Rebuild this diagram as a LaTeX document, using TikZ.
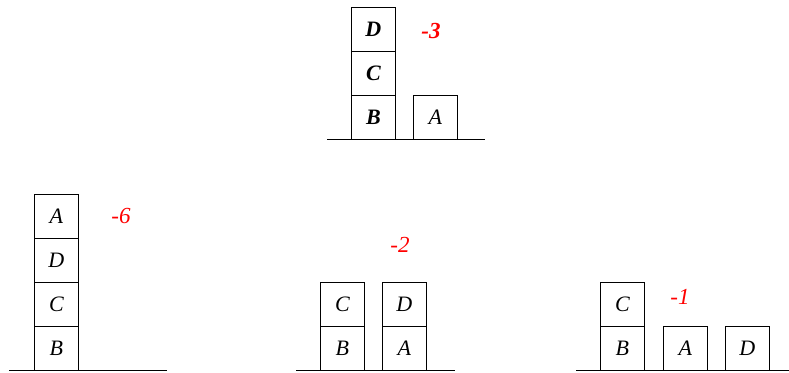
\documentclass[tikz,border=0pt]{standalone}
\usepackage{fontspec}
\setmainfont{Liberation Serif}
\begin{document}
\begin{tikzpicture}[x=1pt,y=-1pt,
  blk/.style={draw,line width=0.8pt,minimum width=44pt,minimum height=44pt,inner sep=0pt,anchor=north west,font=\fontsize{22}{22}\selectfont\itshape},
  bblk/.style={blk,font=\fontsize{22}{22}\selectfont\bfseries\itshape},
  gnd/.style={line width=1pt},
  score/.style={text=red,font=\fontsize{23}{23}\selectfont\itshape},
  bscore/.style={text=red,font=\fontsize{23}{23}\selectfont\bfseries\itshape}]
\useasboundingbox (0,0) rectangle (789,372);
% top
\node[bblk] (tD) at (351,7) {D};
\node[bblk] (tC) at (351,51) {C};
\node[bblk] (tB) at (351,95) {B};
\node[blk] (tA) at (413,95) {A};
\coordinate (tg1) at (327,139); \coordinate (tg2) at (485,139);
\draw[gnd] (tg1) -- (tg2);
\node[bscore] (ts) at (431,31) {-3};
% left
\node[blk] (lA) at (34,194) {A};
\node[blk] (lD) at (34,238) {D};
\node[blk] (lC) at (34,282) {C};
\node[blk] (lB) at (34,326) {B};
\coordinate (lg1) at (9,370); \coordinate (lg2) at (167,370);
\draw[gnd] (lg1) -- (lg2);
\node[score] (ls) at (121,216) {-6};
% middle
\node[blk] (mC) at (320,282) {C};
\node[blk] (mB) at (320,326) {B};
\node[blk] (mD) at (382,282) {D};
\node[blk] (mA) at (382,326) {A};
\coordinate (mg1) at (296,370); \coordinate (mg2) at (455,370);
\draw[gnd] (mg1) -- (mg2);
\node[score] (ms) at (400,245) {-2};
% right
\node[blk] (rC) at (600,282) {C};
\node[blk] (rB) at (600,326) {B};
\node[blk] (rA) at (663,326) {A};
\node[blk] (rD) at (725,326) {D};
\coordinate (rg1) at (576,370); \coordinate (rg2) at (789,370);
\draw[gnd] (rg1) -- (rg2);
\node[score] (rs) at (680,297) {-1};
\end{tikzpicture}
\end{document}
